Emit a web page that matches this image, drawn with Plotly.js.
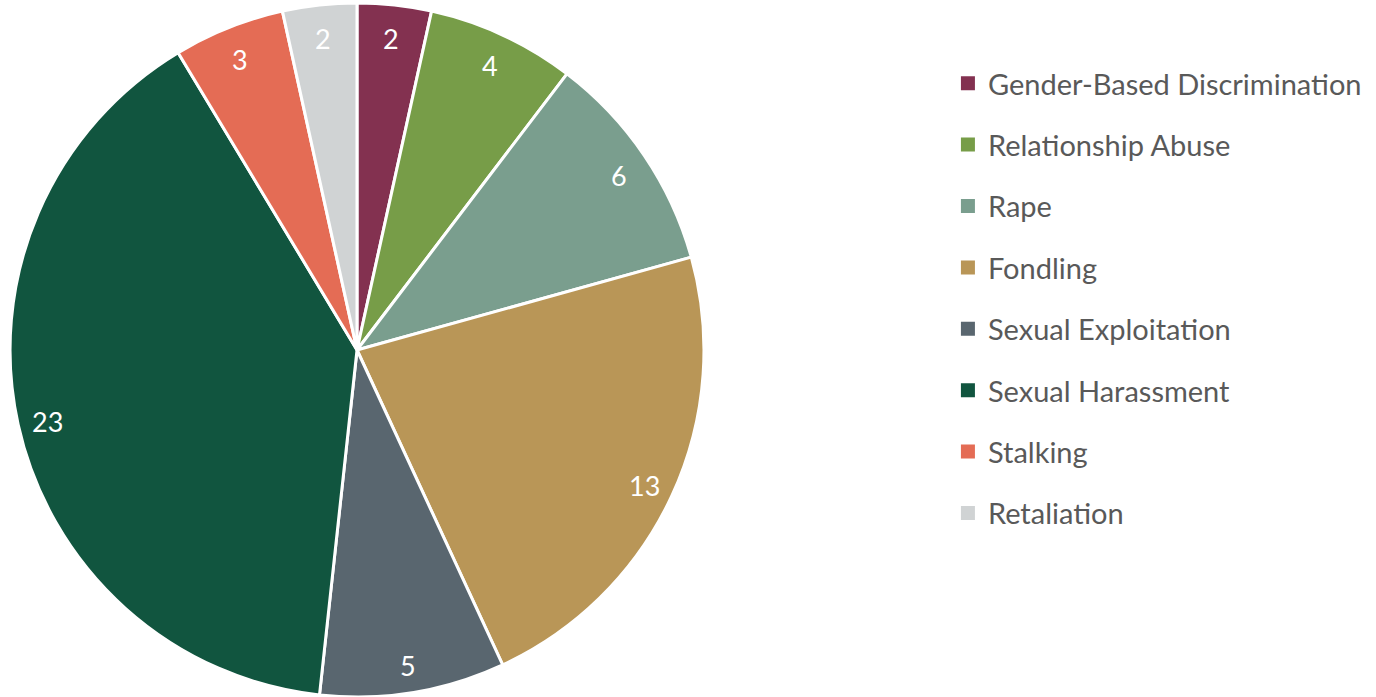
<!DOCTYPE html>
<html>
<head>
<meta charset="utf-8">
<script src="https://cdn.plot.ly/plotly-3.0.1.min.js"></script>
<style>
  html, body { margin: 0; padding: 0; background: #fff; }
  #chart { width: 1376px; height: 697px; }
</style>
</head>
<body>
<div id="chart"></div>
<script>
var categories = ['Gender-Based Discrimination', 'Relationship Abuse', 'Rape', 'Fondling',
                  'Sexual Exploitation', 'Sexual Harassment', 'Stalking', 'Retaliation'];
var counts = [2, 4, 6, 13, 5, 23, 3, 2];
var colors = ['#833150', '#779D48', '#7A9E8E', '#B99657', '#59666F', '#11553F', '#E46C55', '#D0D3D4'];

var FONT = 'Lato, "Open Sans", sans-serif';
var W = 1376, H = 697;
var pieDomain = { x: [0.0073, 0.5116], y: [0, 0.9957] };

var pie = {
    type: 'pie',
    labels: categories,
    values: counts,
    sort: false,
    direction: 'clockwise',
    rotation: 0,
    textinfo: 'none',
    marker: { colors: colors, line: { color: '#ffffff', width: 3 } },
    domain: pieDomain,
    showlegend: false,
    hoverinfo: 'label+value'
};

// value labels sit near the outer edge of each slice, like the original
var cx = (pieDomain.x[0] + pieDomain.x[1]) / 2;
var cy = (pieDomain.y[0] + pieDomain.y[1]) / 2;
var radPx = Math.min((pieDomain.x[1] - pieDomain.x[0]) * W, (pieDomain.y[1] - pieDomain.y[0]) * H) / 2;
var total = counts.reduce(function (a, b) { return a + b; }, 0);
var annotations = [];
var cum = 0;
for (var k = 0; k < counts.length; k++) {
    var mid = (cum + counts[k] / 2) / total * 2 * Math.PI;
    cum += counts[k];
    var r = radPx * 0.912;
    annotations.push({
        xref: 'paper', yref: 'paper',
        x: cx + Math.sin(mid) * r / W,
        y: cy + Math.cos(mid) * r / H,
        yshift: -3,
        text: String(counts[k]),
        showarrow: false,
        xanchor: 'center', yanchor: 'middle',
        font: { family: FONT, size: 27, color: '#ffffff' }
    });
}

// legend entries as separate traces so they can be spaced like the original
var data = [pie];
for (var i = 0; i < categories.length; i++) {
    data.push({
        type: 'scatter',
        mode: 'markers',
        x: [null],
        y: [null],
        name: categories[i],
        legendgroup: 'g' + i,
        marker: { symbol: 'square', size: 14, color: colors[i] },
        hoverinfo: 'skip'
    });
}

var layout = {
    width: W,
    height: H,
    margin: { l: 0, r: 0, t: 0, b: 0 },
    paper_bgcolor: '#ffffff',
    plot_bgcolor: '#ffffff',
    xaxis: { visible: false },
    yaxis: { visible: false },
    showlegend: true,
    legend: {
        x: 0.6889, y: 0.917, xanchor: 'left', yanchor: 'top',
        font: { family: FONT, size: 29, color: '#595959' },
        tracegroupgap: 20.7,
        itemwidth: 30,
        bgcolor: 'rgba(0,0,0,0)'
    },
    annotations: annotations,
    font: { family: FONT }
};

Plotly.newPlot('chart', data, layout, { displayModeBar: false });
</script>
</body>
</html>
